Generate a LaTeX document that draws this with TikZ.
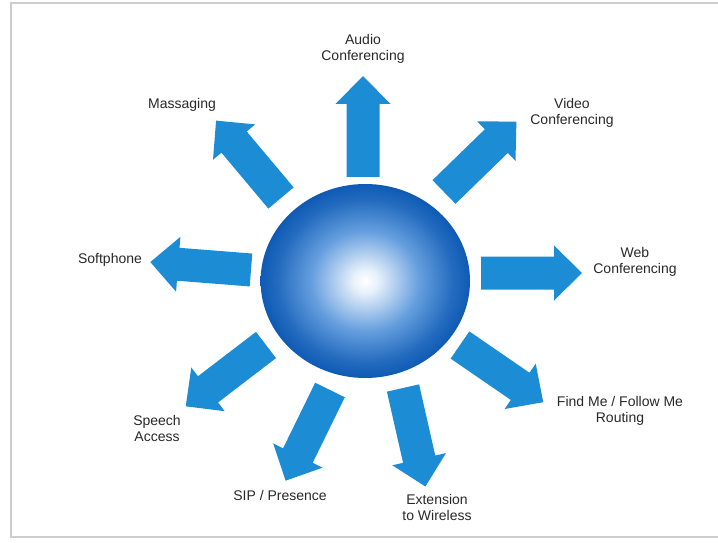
\documentclass[tikz,border=0pt]{standalone}
\usepackage{fontspec}
\setmainfont{Liberation Sans}
\definecolor{arrowblue}{RGB}{28,140,212}
\definecolor{spheredark}{RGB}{14,90,180}
\definecolor{spheremid}{RGB}{100,158,222}
\definecolor{framegray}{RGB}{205,205,205}
\definecolor{labelgray}{RGB}{40,40,40}
\pgfdeclareradialshading{sphereshade}{\pgfpointorigin}{color(0bp)=(white); color(3bp)=(white!85!spheremid); color(13bp)=(spheremid); color(21bp)=(spheredark!75!spheremid); color(25bp)=(spheredark); color(50bp)=(spheredark)}
\tikzset{
  pics/blockarrow/.style={code={
    \fill[arrowblue] (0,-16.5) -- (73,-16.5) -- (73,-27.5) -- (101,0) -- (73,27.5) -- (73,16.5) -- (0,16.5) -- cycle;
  }},
  lbl/.style={font=\fontsize{14}{16}\selectfont, text=labelgray, align=center, inner sep=0pt},
}
\begin{document}
\begin{tikzpicture}[x=1pt,y=1pt]
\useasboundingbox (0,0) rectangle (718,542);
\draw[framegray, line width=2pt] (718,538.5) -- (10.5,538.5) -- (10.5,5) -- (718,5);
% sphere
\shade[shading=sphereshade] (365.3,261) ellipse [x radius=104.7, y radius=97];
\node[inner sep=0pt, minimum width=209.4pt, minimum height=194pt] (hub) at (365.3,261) {};
% arrows
\pic (aAudio) [rotate=90] at (363,365) {blockarrow};
\pic (aMsg) [rotate=130] at (281,344) {blockarrow};
\pic (aSoft) [rotate=175.5] at (251,272) {blockarrow};
\pic (aSpeech) [rotate=217.4] at (266,197) {blockarrow};
\pic (aSip) [rotate=243.9] at (330,152) {blockarrow};
\pic (aExt) [rotate=282.8] at (403,154) {blockarrow};
\pic (aFind) [rotate=325.5] at (460,197) {blockarrow};
\pic (aWeb) [rotate=0] at (481,269) {blockarrow};
\pic (aVideo) [rotate=44.2] at (444,350) {blockarrow};
% labels
\node[lbl] (audio) at (363,493) {Audio\\Conferencing};
\node[lbl] (msg) at (182,437) {Massaging};
\node[lbl] (video) at (572,429) {Video\\Conferencing};
\node[lbl] (web) at (635,280) {Web\\Conferencing};
\node[lbl] (soft) at (110,282) {Softphone};
\node[lbl] (speech) at (157,114) {Speech\\Access};
\node[lbl] (sip) at (280,47) {SIP / Presence};
\node[lbl] (ext) at (437,35) {Extension\\to Wireless};
\node[lbl] (find) at (620,131) {Find Me / Follow Me\\Routing};
\end{tikzpicture}
\end{document}
